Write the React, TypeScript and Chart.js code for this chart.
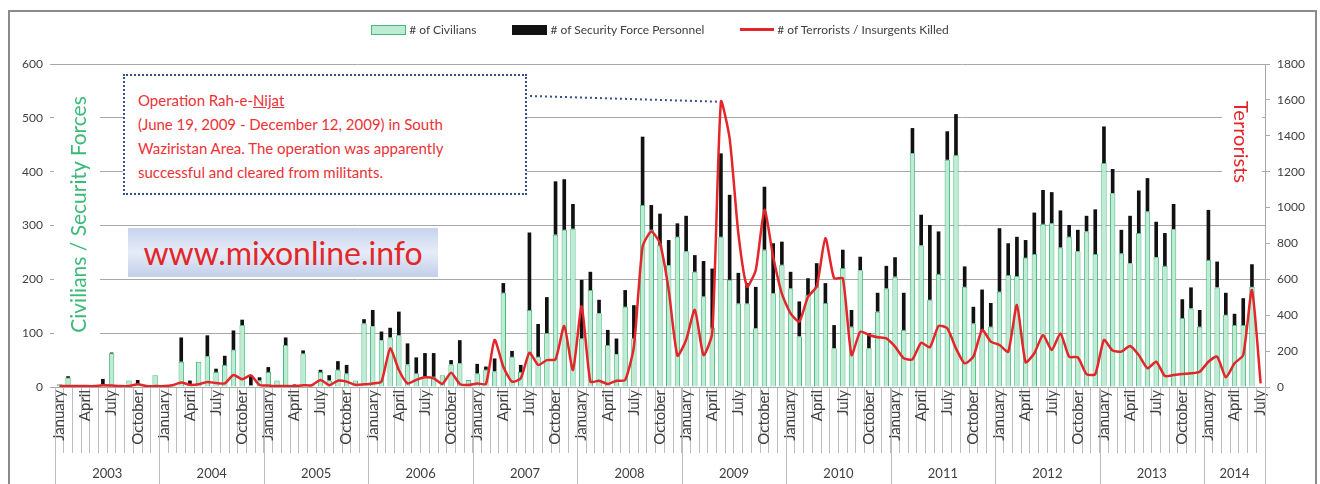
import { useEffect, useRef } from 'react';
import { Chart, registerables } from 'chart.js';

Chart.register(...registerables);

const FONT = 'Lato, "Open Sans", sans-serif';
const TEXT = '#404040';
const GRID = '#a8a8a8';
const RED = '#e3262a';

const years = ['2003', '2004', '2005', '2006', '2007', '2008', '2009', '2010', '2011', '2012', '2013', '2014'];
const monthNames = ['January', 'February', 'March', 'April', 'May', 'June', 'July', 'August', 'September', 'October', 'November', 'December'];
const monthsInLastYear = 7;

// Jan 2003 .. Jul 2014, one row per year
const civilians = [
  5, 17, 2, 0, 3, 5, 62, 3, 12, 5, 2, 22,
  3, 5, 47, 4, 47, 57, 28, 41, 69, 115, 3, 12,
  28, 12, 78, 4, 62, 4, 28, 12, 32, 25, 12, 118,
  113, 87, 92, 96, 42, 25, 19, 19, 22, 42, 44, 13,
  25, 32, 29, 175, 56, 28, 143, 56, 100, 283, 292, 294,
  90, 180, 137, 78, 61, 149, 90, 338, 292, 264, 226, 279,
  252, 214, 168, 110, 279, 199, 155, 155, 109, 255, 174, 227,
  183, 94, 171, 186, 156, 72, 221, 112, 217, 72, 140, 183,
  205, 106, 434, 263, 162, 210, 422, 431, 186, 118, 106, 112,
  177, 208, 206, 240, 247, 303, 304, 259, 279, 252, 289, 247,
  416, 360, 248, 230, 286, 326, 241, 225, 293, 128, 146, 112,
  236, 185, 134, 115, 115, 186, 0,
];

const securityForces = [
  0, 3, 0, 0, 0, 10, 2, 0, 0, 8, 0, 0,
  0, 0, 45, 8, 0, 39, 6, 17, 36, 10, 19, 6,
  9, 0, 14, 1, 6, 0, 4, 10, 16, 16, 0, 8,
  30, 16, 18, 44, 39, 30, 44, 44, 0, 8, 43, 0,
  18, 6, 24, 18, 11, 13, 144, 61, 67, 99, 94, 46,
  109, 34, 25, 28, 29, 31, 62, 127, 46, 58, 47, 25,
  66, 31, 66, 110, 155, 158, 57, 38, 77, 117, 93, 43,
  31, 65, 31, 44, 37, 43, 34, 31, 25, 28, 35, 42,
  36, 69, 47, 57, 139, 79, 53, 76, 38, 31, 75, 44,
  118, 59, 73, 33, 77, 63, 58, 69, 22, 40, 29, 83,
  68, 45, 44, 88, 79, 62, 66, 61, 47, 35, 39, 31,
  93, 48, 41, 21, 50, 42, 0,
];

const terrorists = [
  5, 5, 5, 5, 5, 10, 8, 5, 5, 15, 5, 5,
  5, 10, 25, 12, 15, 28, 22, 20, 67, 43, 65, 11,
  8, 5, 5, 5, 10, 10, 39, 10, 35, 30, 12, 15,
  20, 30, 215, 95, 20, 40, 54, 48, 17, 80, 17, 11,
  20, 17, 262, 113, 30, 48, 191, 123, 150, 154, 340, 95,
  450, 30, 35, 17, 35, 39, 225, 782, 866, 800, 540, 175,
  262, 430, 178, 300, 1590, 1386, 856, 560, 652, 987, 726, 520,
  410, 364, 503, 560, 829, 606, 606, 178, 308, 290, 277, 271,
  225, 160, 154, 247, 221, 340, 327, 215, 132, 169, 318, 253,
  234, 197, 457, 138, 188, 290, 206, 299, 169, 165, 72, 72,
  262, 203, 197, 229, 178, 104, 141, 61, 67, 72, 76, 85,
  141, 169, 54, 132, 178, 540, 20,
];

const monthLabels = years.flatMap((_, k) =>
  monthNames.slice(0, k === years.length - 1 ? monthsInLastYear : 12)
);

// year row under the month labels
const yearAxisPlugin = {
  id: 'yearAxis',
  afterDraw(chart: any) {
    const { ctx, chartArea, scales } = chart;
    const xs = scales.x;
    const half = (xs.getPixelForValue(1) - xs.getPixelForValue(0)) / 2;
    ctx.save();
    ctx.strokeStyle = '#bdbdbd';
    ctx.lineWidth = 1;
    ctx.fillStyle = TEXT;
    ctx.font = `13px ${FONT}`;
    ctx.textAlign = 'center';
    ctx.textBaseline = 'middle';
    let start = 0;
    years.forEach((year, k) => {
      const count = k === years.length - 1 ? monthsInLastYear : 12;
      const left = xs.getPixelForValue(start) - half;
      const right = xs.getPixelForValue(start + count - 1) + half;
      [left, right].forEach((x) => {
        ctx.beginPath();
        ctx.moveTo(Math.round(x) + 0.5, chartArea.bottom);
        ctx.lineTo(Math.round(x) + 0.5, chart.height);
        ctx.stroke();
      });
      ctx.fillText(year, (left + right) / 2, 474);
      start += count;
    });
    ctx.restore();
  },
};

// dotted leader from the note box to the peak of the line
const leaderPlugin = {
  id: 'leader',
  afterDatasetsDraw(chart: any) {
    const { ctx, scales } = chart;
    const peak = terrorists.indexOf(Math.max(...terrorists));
    const x = scales.x.getPixelForValue(peak);
    const y = scales.y1.getPixelForValue(terrorists[peak]);
    ctx.save();
    ctx.setLineDash([2, 3]);
    ctx.strokeStyle = '#34508f';
    ctx.lineWidth = 2;
    ctx.beginPath();
    ctx.moveTo(530, 96);
    ctx.lineTo(x - 3, y);
    ctx.stroke();
    ctx.restore();
  },
};

function LegendBox({ fill, border, line }: { fill: string; border?: string; line?: boolean }) {
  if (line) {
    return <span style={{ display: 'inline-block', width: 34, height: 3, background: fill, marginRight: 3 }} />;
  }
  return (
    <span
      style={{
        display: 'inline-block',
        width: 33,
        height: 8,
        background: fill,
        border: `1px solid ${border || fill}`,
        marginRight: 3,
      }}
    />
  );
}

export default function App() {
  const chartRef = useRef<HTMLCanvasElement>(null);
  const chartInstance = useRef<Chart | null>(null);

  useEffect(() => {
    if (!chartRef.current) return;
    const ctx = chartRef.current.getContext('2d');
    if (!ctx) return;

    if (chartInstance.current) {
      chartInstance.current.destroy();
    }

    chartInstance.current = new Chart(ctx, {
      type: 'bar',
      data: {
        labels: monthLabels,
        datasets: [
          {
            type: 'line',
            label: '# of Terrorists / Insurgents Killed',
            data: terrorists,
            yAxisID: 'y1',
            borderColor: RED,
            backgroundColor: RED,
            borderWidth: 2.5,
            pointRadius: 0,
            tension: 0.2,
            order: 0,
          },
          {
            label: '# of Civilians',
            data: civilians,
            yAxisID: 'y',
            stack: 'killed',
            backgroundColor: '#bdebd3',
            borderColor: '#45b97c',
            borderWidth: 1,
            barPercentage: 0.62,
            categoryPercentage: 1,
            order: 1,
          },
          {
            label: '# of Security Force Personnel',
            data: securityForces,
            yAxisID: 'y',
            stack: 'killed',
            backgroundColor: '#111111',
            borderWidth: 0,
            barPercentage: 0.42,
            categoryPercentage: 1,
            order: 1,
          },
        ] as any,
      },
      options: {
        animation: false,
        responsive: true,
        maintainAspectRatio: false,
        layout: { padding: { top: 64, left: 8, right: 5, bottom: 0 } },
        plugins: {
          legend: { display: false },
          tooltip: { enabled: false },
        },
        scales: {
          x: {
            stacked: true,
            offset: true,
            afterFit: (scale: any) => {
              scale.height = 97;
            },
            grid: {
              offset: true,
              drawOnChartArea: false,
              drawTicks: true,
              tickLength: 66,
              color: '#bdbdbd',
            },
            border: { display: true, color: GRID },
            ticks: {
              autoSkip: false,
              maxRotation: 90,
              minRotation: 90,
              padding: -63,
              color: TEXT,
              font: { family: FONT, size: 15 },
              callback: (value: any, index: number) =>
                index % 3 === 0 ? monthLabels[index] : '',
            },
          },
          y: {
            stacked: true,
            position: 'left',
            min: 0,
            max: 600,
            afterFit: (scale: any) => {
              scale.width = 47;
            },
            grid: { color: GRID, tickLength: 5 },
            border: { display: false },
            ticks: {
              stepSize: 100,
              padding: 7,
              color: TEXT,
              font: { family: FONT, size: 12 },
            },
          },
          y1: {
            position: 'right',
            min: 0,
            max: 1800,
            afterFit: (scale: any) => {
              scale.width = 50;
            },
            grid: { drawOnChartArea: false, color: GRID, tickLength: 5 },
            border: { display: true, color: GRID },
            ticks: {
              stepSize: 200,
              padding: 7,
              color: TEXT,
              font: { family: FONT, size: 12 },
              callback: (value: any) => String(value),
            },
          },
        },
      },
      plugins: [yearAxisPlugin, leaderPlugin],
    });

    return () => {
      if (chartInstance.current) {
        chartInstance.current.destroy();
        chartInstance.current = null;
      }
    };
  }, []);

  return (
    <div
      style={{
        position: 'fixed',
        left: 0,
        top: 0,
        width: 1320,
        height: 484,
        background: '#fff',
        overflow: 'hidden',
        fontFamily: FONT,
      }}
    >
      <canvas ref={chartRef} />

      {/* frame */}
      <div
        style={{
          position: 'absolute',
          left: 8,
          top: 10,
          width: 1305,
          height: 490,
          border: '2px solid #8a8a8a',
          pointerEvents: 'none',
        }}
      />

      {/* legend */}
      <div
        style={{
          position: 'absolute',
          top: 22,
          left: 0,
          width: 1320,
          display: 'flex',
          justifyContent: 'center',
          alignItems: 'center',
          gap: 36,
          fontSize: 12,
          color: TEXT,
        }}
      >
        <span style={{ display: 'flex', alignItems: 'center' }}>
          <LegendBox fill="#bdebd3" border="#45b97c" />
          # of Civilians
        </span>
        <span style={{ display: 'flex', alignItems: 'center' }}>
          <LegendBox fill="#111111" />
          # of Security Force Personnel
        </span>
        <span style={{ display: 'flex', alignItems: 'center' }}>
          <LegendBox fill={RED} line />
          # of Terrorists / Insurgents Killed
        </span>
      </div>

      {/* left axis title */}
      <div
        style={{
          position: 'absolute',
          left: 54,
          top: 86,
          width: 46,
          height: 256,
          background: '#fff',
          display: 'flex',
          alignItems: 'center',
          justifyContent: 'center',
        }}
      >
        <span
          style={{
            transform: 'rotate(-90deg)',
            whiteSpace: 'nowrap',
            color: '#3dba77',
            fontSize: 21,
          }}
        >
          Civilians / Security Forces
        </span>
      </div>

      {/* right axis title */}
      <div
        style={{
          position: 'absolute',
          left: 1222,
          top: 84,
          width: 40,
          height: 116,
          background: '#fff',
          display: 'flex',
          alignItems: 'center',
          justifyContent: 'center',
        }}
      >
        <span
          style={{
            transform: 'rotate(90deg)',
            whiteSpace: 'nowrap',
            color: RED,
            fontSize: 20,
          }}
        >
          Terrorists
        </span>
      </div>

      {/* note box */}
      <div
        style={{
          position: 'absolute',
          left: 123,
          top: 74,
          width: 404,
          height: 121,
          background: '#fff',
          border: '2px dotted #34508f',
          color: '#ec3236',
          fontSize: 15,
          lineHeight: '24px',
          paddingLeft: 13,
          paddingTop: 12,
          boxSizing: 'border-box',
          whiteSpace: 'nowrap',
        }}
      >
        <div>
          Operation Rah-e-<span style={{ textDecoration: 'underline' }}>Nijat</span>
        </div>
        <div>(June 19, 2009 - December 12, 2009) in South</div>
        <div>Waziristan Area. The operation was apparently</div>
        <div>successful and cleared from militants.</div>
      </div>

      {/* watermark */}
      <div
        style={{
          position: 'absolute',
          left: 128,
          top: 228,
          width: 310,
          height: 49,
          background: 'linear-gradient(to bottom, #c7d4ee, #e6ecf7 50%, #c2cfea)',
          display: 'flex',
          alignItems: 'center',
          justifyContent: 'center',
          color: RED,
          fontSize: 32,
        }}
      >
        www.mixonline.info
      </div>
    </div>
  );
}
